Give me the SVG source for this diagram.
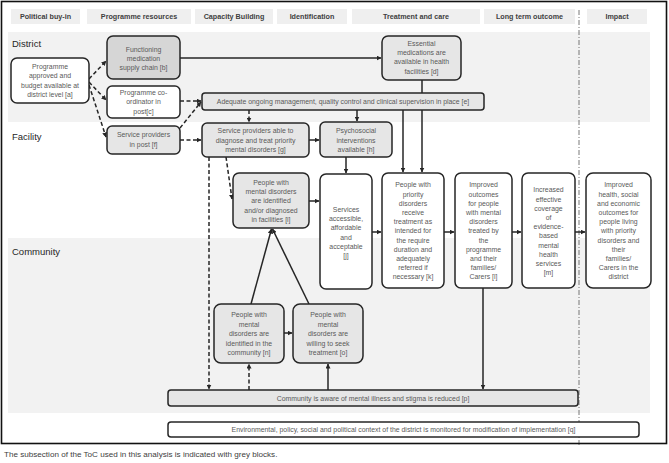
<svg xmlns="http://www.w3.org/2000/svg" width="669" height="463" viewBox="0 0 669 463">
<defs>
<style>
.band{fill:#f2f2f2}
.hdr{fill:#efefef}
.ht{font-family:"Liberation Sans",Arial,sans-serif;font-size:7.2px;font-weight:bold;fill:#404040;text-anchor:middle}
.rl{font-family:"Liberation Sans",Arial,sans-serif;font-size:9.5px;fill:#262626}
.nd{stroke:#262626;stroke-width:1.5}
.w{fill:#ffffff}
.g{fill:#e6e6e6}
.gd{fill:#d6d6d6}
.t{font-family:"Liberation Sans",Arial,sans-serif;font-size:6.9px;fill:#595959;text-anchor:middle}
.c{fill:none;stroke:#262626;stroke-width:1.5}
.dash{stroke-dasharray:4 2.5}
.cap{font-family:"Liberation Sans",Arial,sans-serif;font-size:8.1px;fill:#404040}
</style>
<marker id="ah" viewBox="0 0 10 10" refX="9" refY="5" markerWidth="5" markerHeight="5" markerUnits="userSpaceOnUse" orient="auto">
<path d="M0,0 L10,5 L0,10 z" fill="#262626"/>
</marker>
</defs>
<rect x="0" y="0" width="669" height="463" fill="#ffffff"/>
<g id="background">
<rect class="band" x="8" y="32" width="642" height="90"/>
<rect class="band" x="8" y="238" width="642" height="175"/>
<rect class="hdr" x="11" y="9" width="69" height="15"/>
<rect class="hdr" x="87" y="9" width="104" height="15"/>
<rect class="hdr" x="195" y="9" width="78" height="15"/>
<rect class="hdr" x="277" y="9" width="70" height="15"/>
<rect class="hdr" x="352" y="9" width="128" height="15"/>
<rect class="hdr" x="484" y="9" width="91" height="15"/>
<rect class="hdr" x="587" y="9" width="60" height="15"/>
<text class="ht" x="45.5" y="19.3">Political buy-in</text>
<text class="ht" x="139" y="19.3">Programme resources</text>
<text class="ht" x="234" y="19.3">Capacity Building</text>
<text class="ht" x="312" y="19.3">Identification</text>
<text class="ht" x="416" y="19.3">Treatment and care</text>
<text class="ht" x="529.5" y="19.3">Long term outcome</text>
<text class="ht" x="617" y="19.3">Impact</text>
<text class="rl" x="12" y="47">District</text>
<text class="rl" x="12" y="140">Facility</text>
<text class="rl" x="12" y="255">Community</text>
<line x1="579" y1="10" x2="579" y2="445" stroke="#555" stroke-width="0.8" stroke-dasharray="5 2 1 2"/>
</g>
<g id="connectors">
<path class="c" d="M180,58 H381" marker-end="url(#ah)"/>
<path class="c dash" d="M89,79 L106,61" marker-end="url(#ah)"/>
<path class="c dash" d="M89,82 L106,100" marker-end="url(#ah)"/>
<path class="c dash" d="M89,85 L106,137" marker-end="url(#ah)"/>
<path class="c dash" d="M180,101 H201" marker-end="url(#ah)"/>
<path class="c dash" d="M180,128 L201,102" marker-end="url(#ah)"/>
<path class="c dash" d="M180,140 H201" marker-end="url(#ah)"/>
<path class="c dash" d="M249,110 V122" marker-end="url(#ah)"/>
<path class="c" d="M357,110 V121" marker-end="url(#ah)"/>
<path class="c" d="M422,80 V172" marker-end="url(#ah)"/>
<path class="c" d="M403,110 V172" marker-end="url(#ah)"/>
<path class="c" d="M309,140 H319" marker-end="url(#ah)"/>
<path class="c" d="M346,157 V173" marker-end="url(#ah)"/>
<path class="c dash" d="M226,157 L232,199" marker-end="url(#ah)"/>
<path class="c dash" d="M209,157 V389" marker-end="url(#ah)"/>
<path class="c" d="M309,201 H319" marker-end="url(#ah)"/>
<path class="c" d="M372,232 H381" marker-end="url(#ah)"/>
<path class="c" d="M444,232 H454" marker-end="url(#ah)"/>
<path class="c" d="M512,232 H521" marker-end="url(#ah)"/>
<path class="c" d="M575,232 H585" marker-end="url(#ah)"/>
<path class="c" d="M251,304 L271.5,229" marker-end="url(#ah)"/>
<path class="c" d="M309,304 L272.5,229" marker-end="url(#ah)"/>
<path class="c" d="M284,333 H292" marker-end="url(#ah)"/>
<path class="c dash" d="M249,390 V364" marker-end="url(#ah)"/>
<path class="c" d="M328,390 V364" marker-end="url(#ah)"/>
<path class="c" d="M483,288 V389" marker-end="url(#ah)"/>
</g>
<g id="node-a">
<rect class="nd w" x="11" y="58" width="78" height="45" rx="6"/>
<text class="t" x="50" y="69"><tspan x="50">Programme</tspan><tspan x="50" dy="9.3">approved and</tspan><tspan x="50" dy="9.3">budget available at</tspan><tspan x="50" dy="9.3">district level [a]</tspan></text>
</g>
<g id="node-b">
<rect class="nd gd" x="107" y="36" width="73" height="43" rx="6"/>
<text class="t" x="143.5" y="51.6"><tspan x="143.5">Functioning</tspan><tspan x="143.5" dy="9.3">medication</tspan><tspan x="143.5" dy="9.3">supply chain [b]</tspan></text>
</g>
<g id="node-c">
<rect class="nd w" x="107" y="86" width="73" height="32" rx="5"/>
<text class="t" x="143.5" y="95"><tspan x="143.5">Programme co-</tspan><tspan x="143.5" dy="9.3">ordinator in</tspan><tspan x="143.5" dy="9.3">post[c]</tspan></text>
</g>
<g id="node-d">
<rect class="nd g" x="382" y="36" width="79" height="44" rx="6"/>
<text class="t" x="421.5" y="45.6"><tspan x="421.5">Essential</tspan><tspan x="421.5" dy="9.3">medications are</tspan><tspan x="421.5" dy="9.3">available in health</tspan><tspan x="421.5" dy="9.3">facilities [d]</tspan></text>
</g>
<g id="node-e">
<rect class="nd g" x="202" y="93" width="282" height="17" rx="3"/>
<text class="t" x="343" y="104">Adequate ongoing management, quality control and clinical supervision in place [e]</text>
</g>
<g id="node-f">
<rect class="nd g" x="107" y="126" width="73" height="28" rx="5"/>
<text class="t" x="143.5" y="137.4"><tspan x="143.5">Service providers</tspan><tspan x="143.5" dy="9.3">in post [f]</tspan></text>
</g>
<g id="node-g">
<rect class="nd g" x="202" y="123" width="107" height="34" rx="5"/>
<text class="t" x="255.5" y="133.3"><tspan x="255.5">Service providers able to</tspan><tspan x="255.5" dy="9.3">diagnose and treat priority</tspan><tspan x="255.5" dy="9.3">mental disorders [g]</tspan></text>
</g>
<g id="node-h">
<rect class="nd g" x="320" y="122" width="72" height="35" rx="5"/>
<text class="t" x="356" y="133.3"><tspan x="356">Psychosocial</tspan><tspan x="356" dy="9.3">interventions</tspan><tspan x="356" dy="9.3">available [h]</tspan></text>
</g>
<g id="node-i">
<rect class="nd g" x="233" y="173" width="76" height="55" rx="6"/>
<text class="t" x="271" y="184.6"><tspan x="271">People with</tspan><tspan x="271" dy="9.3">mental disorders</tspan><tspan x="271" dy="9.3">are identified</tspan><tspan x="271" dy="9.3">and/or diagnosed</tspan><tspan x="271" dy="9.3">in facilities [i]</tspan></text>
</g>
<g id="node-j">
<rect class="nd w" x="320" y="174" width="52" height="115" rx="6"/>
<text class="t" x="346" y="211.6"><tspan x="346">Services</tspan><tspan x="346" dy="9.3">accessible,</tspan><tspan x="346" dy="9.3">affordable</tspan><tspan x="346" dy="9.3">and</tspan><tspan x="346" dy="9.3">acceptable</tspan><tspan x="346" dy="9.3">[j]</tspan></text>
</g>
<g id="node-k">
<rect class="nd w" x="382" y="173" width="62" height="115" rx="6"/>
<text class="t" x="413" y="187.3"><tspan x="413">People with</tspan><tspan x="413" dy="9.2">priority</tspan><tspan x="413" dy="9.2">disorders</tspan><tspan x="413" dy="9.2">receive</tspan><tspan x="413" dy="9.2">treatment as</tspan><tspan x="413" dy="9.2">intended for</tspan><tspan x="413" dy="9.2">the require</tspan><tspan x="413" dy="9.2">duration and</tspan><tspan x="413" dy="9.2">adequately</tspan><tspan x="413" dy="9.2">referred if</tspan><tspan x="413" dy="9.2">necessary [k]</tspan></text>
</g>
<g id="node-l">
<rect class="nd w" x="455" y="173" width="57" height="115" rx="6"/>
<text class="t" x="483.5" y="187.3"><tspan x="483.5">Improved</tspan><tspan x="483.5" dy="9.2">outcomes</tspan><tspan x="483.5" dy="9.2">for people</tspan><tspan x="483.5" dy="9.2">with mental</tspan><tspan x="483.5" dy="9.2">disorders</tspan><tspan x="483.5" dy="9.2">treated by</tspan><tspan x="483.5" dy="9.2">the</tspan><tspan x="483.5" dy="9.2">programme</tspan><tspan x="483.5" dy="9.2">and their</tspan><tspan x="483.5" dy="9.2">families/</tspan><tspan x="483.5" dy="9.2">Carers [l]</tspan></text>
</g>
<g id="node-m">
<rect class="nd w" x="522" y="173" width="53" height="115" rx="6"/>
<text class="t" x="548.5" y="192.3"><tspan x="548.5">Increased</tspan><tspan x="548.5" dy="9.2">effective</tspan><tspan x="548.5" dy="9.2">coverage</tspan><tspan x="548.5" dy="9.2">of</tspan><tspan x="548.5" dy="9.2">evidence-</tspan><tspan x="548.5" dy="9.2">based</tspan><tspan x="548.5" dy="9.2">mental</tspan><tspan x="548.5" dy="9.2">health</tspan><tspan x="548.5" dy="9.2">services</tspan><tspan x="548.5" dy="9.2">[m]</tspan></text>
</g>
<g id="node-impact">
<rect class="nd w" x="586" y="173" width="65" height="115" rx="7"/>
<text class="t" x="618.5" y="187.3"><tspan x="618.5">Improved</tspan><tspan x="618.5" dy="9.2">health, social</tspan><tspan x="618.5" dy="9.2">and economic</tspan><tspan x="618.5" dy="9.2">outcomes for</tspan><tspan x="618.5" dy="9.2">people living</tspan><tspan x="618.5" dy="9.2">with priority</tspan><tspan x="618.5" dy="9.2">disorders and</tspan><tspan x="618.5" dy="9.2">their</tspan><tspan x="618.5" dy="9.2">families/</tspan><tspan x="618.5" dy="9.2">Carers in the</tspan><tspan x="618.5" dy="9.2">district</tspan></text>
</g>
<g id="node-n">
<rect class="nd g" x="214" y="304" width="70" height="59" rx="7"/>
<text class="t" x="249" y="317.3"><tspan x="249">People with</tspan><tspan x="249" dy="9.4">mental</tspan><tspan x="249" dy="9.4">disorders are</tspan><tspan x="249" dy="9.4">identified in the</tspan><tspan x="249" dy="9.4">community [n]</tspan></text>
</g>
<g id="node-o">
<rect class="nd g" x="293" y="304" width="70" height="59" rx="7"/>
<text class="t" x="328" y="317.3"><tspan x="328">People with</tspan><tspan x="328" dy="9.4">mental</tspan><tspan x="328" dy="9.4">disorders are</tspan><tspan x="328" dy="9.4">willing to seek</tspan><tspan x="328" dy="9.4">treatment [o]</tspan></text>
</g>
<g id="node-p">
<rect class="nd g" x="168" y="390" width="410" height="16" rx="3"/>
<text class="t" x="373" y="400.5">Community is aware of mental illness and stigma is reduced [p]</text>
</g>
<g id="node-q">
<rect class="nd w" x="168" y="422" width="471" height="15" rx="3"/>
<text class="t" x="403.5" y="432">Environmental, policy, social and political context of the district is monitored for modification of implementation [q]</text>
</g>
<rect x="1.5" y="1.5" width="665" height="442" fill="none" stroke="#111" stroke-width="1.6"/>
<text class="cap" x="4" y="457">The subsection of the ToC used in this analysis is indicated with grey blocks.</text>
</svg>
